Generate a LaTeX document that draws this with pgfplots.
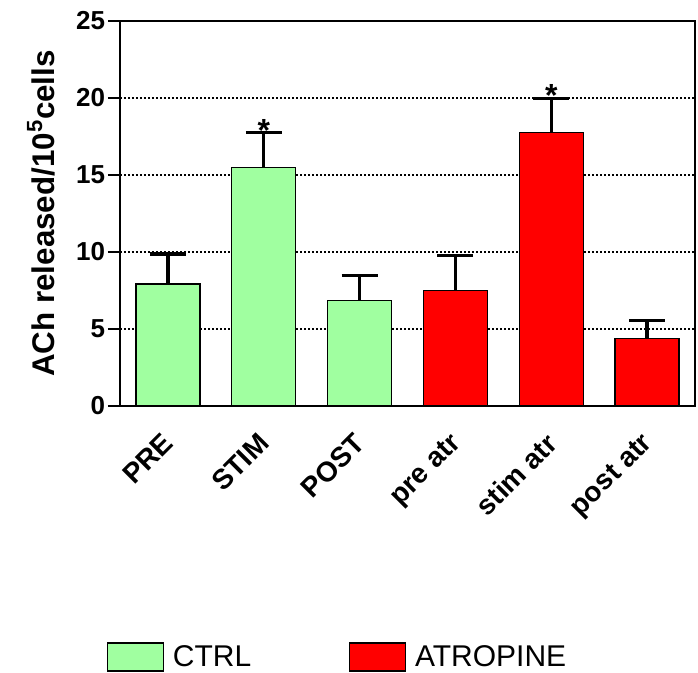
\documentclass[border=0pt]{standalone}
\usepackage{fontspec}
\setmainfont{Liberation Sans}
\usepackage{pgfplots}
\pgfplotsset{compat=1.18}
\definecolor{ctrlgreen}{RGB}{160,255,160}
\definecolor{atrred}{RGB}{255,0,0}
\begin{document}
\begin{tikzpicture}
\useasboundingbox (-90pt,-200.25pt) rectangle (433.5pt,304.5pt);
\begin{axis}[
  at={(0,0)}, anchor=south west,
  scale only axis, width=431.25pt, height=288.75pt,
  xmin=-0.5, xmax=5.5, ymin=0, ymax=25,
  ytick={0,5,...,25},
  xtick={0,...,5},
  xticklabels={PRE,STIM,POST,pre atr,stim atr,post atr},
  x tick label style={rotate=45, anchor=north east, font=\bfseries\fontsize{21}{23}\selectfont, inner sep=1pt, yshift=-2.5pt, xshift=-9.5pt},
  y tick label style={font=\bfseries\fontsize{19.5}{21}\selectfont, inner sep=2pt},
  /pgf/number format/assume math mode=true,
  major x tick style={draw=none},
  ytick pos=left, tick align=outside, major tick length=9pt,
  y tick style={line width=1.5pt, black},
  axis line style={line width=1.8pt},
  ymajorgrids,
  grid style={dash pattern=on 1.5pt off 1.5pt, line width=0.8pt, black},
  ylabel={ACh released/10\textsuperscript{5}cells},
  ylabel style={font=\bfseries\fontsize{23.5}{25}\selectfont, at={(axis description cs:-0.1374,0.5)}, anchor=center},
  legend columns=2,
  legend style={draw=none, fill=none, inner sep=0pt, outer sep=0pt,
    at={(axis description cs:-0.0226,-0.652)}, anchor=west,
    nodes={inner sep=0pt},
    font=\fontsize{22.5}{26}\selectfont,
    /tikz/every odd column/.append style={column sep=6.5pt},
    /tikz/every even column/.append style={column sep=73.5pt}},
  legend image code/.code={\draw[#1] (0pt,-10.5pt) rectangle (42pt,10.5pt);},
]
\addplot[ybar, bar shift=0pt, bar width=48pt, fill=ctrlgreen, draw=black, line width=0.9pt,
  error bars/.cd, y dir=plus, y explicit,
  error bar style={line width=2.4pt},
  error mark options={rotate=90, line width=2.6pt, mark size=13.5pt}]
  coordinates {(0,7.92) +- (0,1.95) (1,15.5) +- (0,2.25) (2,6.84) +- (0,1.65)};
\addplot[ybar, bar shift=0pt, bar width=48pt, fill=atrred, draw=black, line width=0.9pt,
  error bars/.cd, y dir=plus, y explicit,
  error bar style={line width=2.4pt},
  error mark options={rotate=90, line width=2.6pt, mark size=13.5pt}]
  coordinates {(3,7.49) +- (0,2.27) (4,17.75) +- (0,2.23) (5,4.37) +- (0,1.17)};
\legend{CTRL,ATROPINE}
\node[font=\bfseries\fontsize{24}{24}\selectfont, anchor=base, inner sep=0pt] at (axis cs:1,17.15) {*};
\node[font=\bfseries\fontsize{24}{24}\selectfont, anchor=base, inner sep=0pt] at (axis cs:4,19.43) {*};
\end{axis}
\end{tikzpicture}
\end{document}
